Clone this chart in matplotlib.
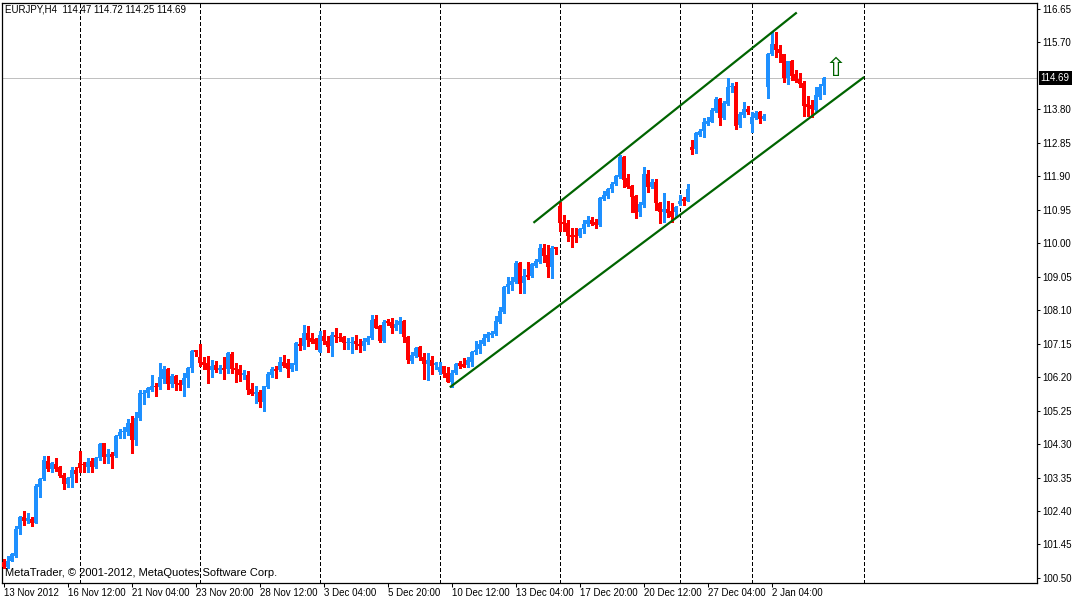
import numpy as np
import matplotlib
matplotlib.use("Agg")
import matplotlib.pyplot as plt
import matplotlib.transforms as mtransforms

plt.rcParams['font.family'] = ['Liberation Sans', 'DejaVu Sans']

# EURJPY H4 candles, bar 0 = 13 Nov 2012 20:00
opens = [
    100.96, 100.81, 100.99, 101.13, 101.88, 102.24, 102.13, 102.18, 102.07, 103.09,
    103.30, 103.82, 103.58, 103.73, 103.64, 103.42, 103.17, 103.33, 103.57, 103.76,
    103.72, 103.64, 103.83, 103.64, 103.90, 104.32, 103.92, 104.02, 103.96, 104.53,
    104.63, 104.65, 104.91, 104.42, 105.03, 105.72, 105.76, 105.83, 105.96, 105.91,
    106.15, 106.43, 106.01, 106.23, 106.04, 105.98, 106.17, 106.45, 106.97, 106.78,
    106.64, 106.61, 106.40, 106.54, 106.40, 106.46, 106.43, 106.86, 106.46, 106.43,
    106.26, 106.26, 105.86, 105.72, 105.78, 105.49, 105.91, 106.26, 106.43, 106.40,
    106.64, 106.59, 106.43, 106.54, 107.13, 107.09, 107.46, 107.30, 107.28, 106.92,
    107.37, 107.23, 107.08, 107.40, 107.35, 107.33, 107.16, 107.18, 107.23, 107.14,
    107.09, 107.19, 107.32, 107.84, 107.65, 107.23, 107.79, 107.76, 107.59, 107.68,
    107.79, 107.35, 106.67, 106.80, 107.06, 106.78, 106.56, 106.69, 106.54, 106.35,
    106.52, 106.31, 106.07, 106.33, 106.59, 106.57, 106.54, 106.64, 106.90, 107.00,
    107.13, 107.32, 107.40, 107.42, 107.77, 108.04, 108.77, 108.81, 108.91, 109.43,
    108.86, 109.10, 109.07, 109.36, 109.48, 109.86, 109.67, 109.33, 109.88, 111.06,
    110.61, 110.58, 110.23, 110.23, 110.21, 110.40, 110.55, 110.66, 110.60, 110.52,
    111.26, 111.34, 111.53, 111.68, 111.87, 112.46, 111.84, 111.63, 111.34, 110.90,
    111.09, 111.97, 111.59, 111.73, 111.13, 110.88, 110.97, 110.91, 110.88, 111.11,
    111.25, 111.20, 112.74, 112.67, 113.07, 113.19, 113.39, 113.45, 113.76, 114.09,
    113.55, 113.95, 114.43, 114.47, 113.36, 113.64, 113.81, 113.38, 113.56, 113.72,
    113.52, 114.44, 115.36, 115.66, 115.51, 115.37, 114.68, 115.17, 114.80, 114.66,
    114.56, 113.95, 113.92, 113.78, 114.16, 114.47,
]
highs = [
    101.04, 101.12, 101.22, 101.98, 102.26, 102.40, 102.35, 102.24, 103.17, 103.34,
    103.96, 103.96, 103.80, 103.90, 103.68, 103.47, 103.37, 103.64, 103.66, 104.11,
    103.80, 103.90, 103.90, 103.94, 104.34, 104.34, 104.16, 104.08, 104.56, 104.72,
    104.79, 105.00, 105.10, 105.22, 105.83, 105.83, 105.91, 106.26, 106.02, 106.61,
    106.52, 106.45, 106.29, 106.25, 106.12, 106.33, 106.50, 106.97, 106.98, 107.14,
    106.76, 106.80, 106.69, 106.66, 106.54, 106.78, 106.91, 106.92, 106.59, 106.54,
    106.40, 106.37, 106.02, 105.95, 105.83, 105.95, 106.35, 106.50, 106.52, 106.76,
    106.83, 106.71, 106.61, 107.21, 107.30, 107.68, 107.65, 107.46, 107.32, 107.51,
    107.54, 107.37, 107.49, 107.59, 107.45, 107.37, 107.32, 107.35, 107.40, 107.27,
    107.30, 107.38, 107.96, 107.96, 107.68, 107.82, 107.84, 107.87, 107.82, 107.91,
    107.82, 107.37, 106.92, 107.06, 107.07, 106.88, 106.88, 106.80, 106.64, 106.64,
    106.53, 106.50, 106.40, 106.61, 106.66, 106.73, 106.78, 106.95, 107.23, 107.25,
    107.42, 107.49, 107.52, 107.94, 108.20, 108.79, 109.05, 109.03, 109.50, 109.48,
    109.26, 109.48, 109.43, 109.55, 109.97, 109.97, 109.95, 109.92, 109.89, 111.18,
    110.80, 110.66, 110.42, 110.42, 110.44, 110.66, 110.77, 110.74, 110.68, 111.31,
    111.48, 111.58, 111.75, 111.94, 112.50, 112.48, 111.97, 111.65, 111.37, 111.18,
    112.16, 112.08, 111.82, 111.82, 111.18, 111.43, 111.21, 111.15, 111.06, 111.37,
    111.32, 111.68, 112.93, 113.17, 113.23, 113.55, 113.59, 113.83, 114.14, 114.11,
    114.04, 114.68, 114.54, 114.57, 113.72, 114.00, 113.90, 113.73, 113.75, 113.75,
    113.66, 115.39, 115.99, 115.99, 115.63, 115.38, 115.18, 115.20, 114.92, 114.82,
    114.61, 114.19, 114.07, 114.44, 114.51, 114.72,
]
lows = [
    100.78, 100.78, 100.98, 101.10, 101.76, 102.00, 102.05, 101.98, 102.05, 102.81,
    103.28, 103.54, 103.51, 103.54, 103.37, 103.02, 103.09, 103.07, 103.23, 103.51,
    103.50, 103.50, 103.50, 103.62, 103.85, 103.75, 103.77, 103.63, 103.94, 104.46,
    104.46, 104.56, 104.06, 104.27, 104.98, 105.44, 105.64, 105.81, 105.66, 105.85,
    106.02, 105.86, 105.91, 105.83, 105.83, 105.66, 105.93, 106.35, 106.80, 106.51,
    106.43, 106.04, 106.19, 106.35, 106.31, 106.15, 106.31, 106.31, 106.07, 106.09,
    106.15, 105.71, 105.69, 105.46, 105.36, 105.25, 105.88, 106.19, 106.18, 106.37,
    106.50, 106.19, 106.38, 106.40, 106.97, 106.99, 107.08, 107.16, 107.00, 106.90,
    107.14, 106.90, 106.80, 107.21, 107.23, 106.99, 107.00, 106.89, 107.00, 106.92,
    106.97, 107.13, 107.28, 107.59, 107.19, 107.19, 107.68, 107.44, 107.54, 107.44,
    107.21, 106.59, 106.61, 106.76, 106.70, 106.15, 106.12, 106.29, 106.42, 106.29,
    106.19, 106.06, 105.93, 106.29, 106.45, 106.48, 106.48, 106.52, 106.86, 106.89,
    107.11, 107.23, 107.35, 107.40, 107.75, 108.01, 108.58, 108.67, 108.86, 108.60,
    108.58, 108.99, 109.05, 109.34, 109.45, 109.48, 109.05, 109.02, 109.70, 110.36,
    110.36, 110.06, 109.90, 110.04, 110.19, 110.30, 110.50, 110.52, 110.42, 110.50,
    111.23, 111.29, 111.45, 111.65, 111.84, 111.59, 111.56, 110.88, 110.71, 110.77,
    111.02, 111.46, 111.56, 110.94, 110.58, 110.61, 110.75, 110.61, 110.75, 111.09,
    111.09, 111.20, 112.53, 112.57, 113.05, 113.01, 113.36, 113.43, 113.73, 113.36,
    113.52, 113.92, 114.29, 113.24, 113.31, 113.59, 113.67, 113.15, 113.52, 113.40,
    113.50, 114.13, 115.34, 115.30, 115.15, 114.57, 114.52, 114.64, 114.57, 114.44,
    113.61, 113.61, 113.57, 113.76, 114.09, 114.25,
]
closes = [
    100.82, 100.98, 101.18, 101.89, 102.24, 102.13, 102.21, 102.07, 103.11, 103.31,
    103.85, 103.58, 103.75, 103.59, 103.39, 103.17, 103.35, 103.56, 103.46, 103.63,
    103.70, 103.80, 103.64, 103.90, 104.30, 103.92, 104.02, 103.94, 104.53, 104.65,
    104.68, 104.91, 104.42, 105.03, 105.74, 105.76, 105.89, 105.95, 105.91, 106.19,
    106.43, 106.01, 106.23, 106.01, 105.98, 106.17, 106.45, 106.94, 106.90, 106.59,
    106.54, 106.40, 106.52, 106.40, 106.46, 106.40, 106.88, 106.43, 106.40, 106.26,
    106.33, 105.83, 105.72, 105.78, 105.49, 105.95, 106.29, 106.42, 106.38, 106.64,
    106.52, 106.42, 106.59, 107.16, 107.09, 107.46, 107.25, 107.21, 107.14, 107.40,
    107.23, 107.06, 107.40, 107.33, 107.30, 107.16, 107.18, 107.20, 107.14, 107.09,
    107.23, 107.32, 107.82, 107.60, 107.23, 107.77, 107.75, 107.59, 107.71, 107.79,
    107.33, 106.69, 106.83, 107.02, 106.76, 106.56, 106.69, 106.52, 106.59, 106.50,
    106.29, 106.07, 106.31, 106.57, 106.52, 106.50, 106.69, 106.90, 106.97, 107.14,
    107.30, 107.42, 107.46, 107.79, 108.08, 108.77, 108.84, 108.94, 109.45, 108.84,
    109.07, 109.05, 109.41, 109.51, 109.86, 109.64, 109.33, 109.87, 109.84, 110.57,
    110.55, 110.21, 110.19, 110.19, 110.40, 110.55, 110.66, 110.55, 110.52, 111.28,
    111.37, 111.54, 111.68, 111.91, 112.44, 111.80, 111.60, 111.30, 110.87, 111.11,
    111.97, 111.59, 111.73, 111.13, 110.90, 110.97, 110.87, 110.75, 111.04, 111.20,
    111.20, 111.54, 112.65, 113.14, 113.19, 113.43, 113.48, 113.78, 114.09, 113.55,
    113.99, 114.44, 114.47, 113.34, 113.67, 113.81, 113.73, 113.58, 113.71, 113.52,
    113.61, 115.37, 115.66, 115.49, 115.39, 114.68, 115.17, 114.76, 114.61, 114.52,
    113.90, 113.88, 113.81, 114.21, 114.44, 114.69,
]

# time axis labels (bar index -> label)
xtick_bars = [0, 16, 32, 48, 64, 80, 96, 112, 128, 144, 160, 176, 192]
xtick_labels = ["13 Nov 2012", "16 Nov 12:00", "21 Nov 04:00", "23 Nov 20:00",
                "28 Nov 12:00", "3 Dec 04:00", "5 Dec 20:00", "10 Dec 12:00",
                "13 Dec 04:00", "17 Dec 20:00", "20 Dec 12:00", "27 Dec 04:00",
                "2 Jan 04:00"]
# week separators
week_bars = [19, 49, 79, 109, 139, 169, 187, 215]
# price scale (114.75 is hidden by the bid label)
ytick_vals = [100.50, 101.45, 102.40, 103.35, 104.30, 105.25, 106.20, 107.15,
              108.10, 109.05, 110.00, 110.95, 111.90, 112.85, 113.80, 115.70, 116.65]
bid = 114.69
# channel trendlines: (bar, price) endpoints
upper_line_x = [132.7, 198.1]
upper_line_y = [110.60, 116.53]
lower_line_x = [111.8, 214.95]
lower_line_y = [105.93, 114.70]
arrow_bar, arrow_price = 208.1, 114.95

BULL = '#1e90ff'
BEAR = '#ff0000'
GREEN = '#006400'
FS = 7.0

fig = plt.figure(figsize=(10.75, 5.99), dpi=100)
ax = fig.add_axes([2 / 1075, 16.3 / 599, 1035 / 1075, 580 / 599])

o = np.array(opens)
h = np.array(highs)
l = np.array(lows)
c = np.array(closes)
idx = np.arange(len(o))
up = c >= o
cols = np.where(up, BULL, BEAR)

# wicks
ax.vlines(idx, l, h, colors=cols, linewidth=0.75, antialiased=False, zorder=3)
# bodies
body_lo = np.minimum(o, c)
body_h = np.maximum(np.abs(c - o), 0.03)
ax.bar(idx, body_h, bottom=body_lo, width=0.75, color=cols, linewidth=0,
       antialiased=False, zorder=4)

# week separators
for b in week_bars:
    ax.axvline(b, color='black', lw=0.75, linestyle=(0, (2.9, 2.4)),
               antialiased=False, zorder=1)

# bid line
ax.axhline(bid, color='#c0c0c0', lw=0.5, antialiased=False, zorder=0.5)

# channel
ax.plot(upper_line_x, upper_line_y, color=GREEN, lw=1.6, zorder=5)
ax.plot(lower_line_x, lower_line_y, color=GREEN, lw=1.6, zorder=5)

# buy arrow
ax.text(arrow_bar, arrow_price, '\u21e7', color=GREEN, fontsize=19,
        ha='center', va='center', family=['DejaVu Sans'], zorder=6)

ax.set_xlim(-0.375, 258.375)
ax.set_ylim(100.365, 116.828)

for s in ax.spines.values():
    s.set_linewidth(0.9)
    s.set_color('black')

ax.set_xticks(xtick_bars)
ax.set_xticklabels(xtick_labels, ha='left', fontsize=FS)
ax.tick_params(axis='x', direction='out', length=3, width=0.75, pad=1)

ax.yaxis.tick_right()
ax.set_yticks(ytick_vals)
ax.set_yticklabels([f"{v:.2f}" for v in ytick_vals], fontsize=FS)
ax.tick_params(axis='y', direction='out', length=2.5, width=0.75, pad=1.5)

# bid price label on the scale
trans = mtransforms.blended_transform_factory(ax.transAxes, ax.transData)
ax.text(1.0035, bid, f"{bid:.2f}", transform=trans, color='white', fontsize=FS,
        ha='left', va='center', clip_on=False,
        bbox=dict(boxstyle='square,pad=0.2', fc='black', ec='none'))

# header and copyright
fig.text(5 / 1075, 1 - 10 / 599, "EURJPY,H4  114.47 114.72 114.25 114.69",
         fontsize=FS, ha='left', va='center')
fig.text(5 / 1075, 1 - 573 / 599, "MetaTrader, \u00a9 2001-2012, MetaQuotes Software Corp.",
         fontsize=8.0, ha='left', va='center')

fig.savefig('out.png', dpi=100, facecolor='white')
